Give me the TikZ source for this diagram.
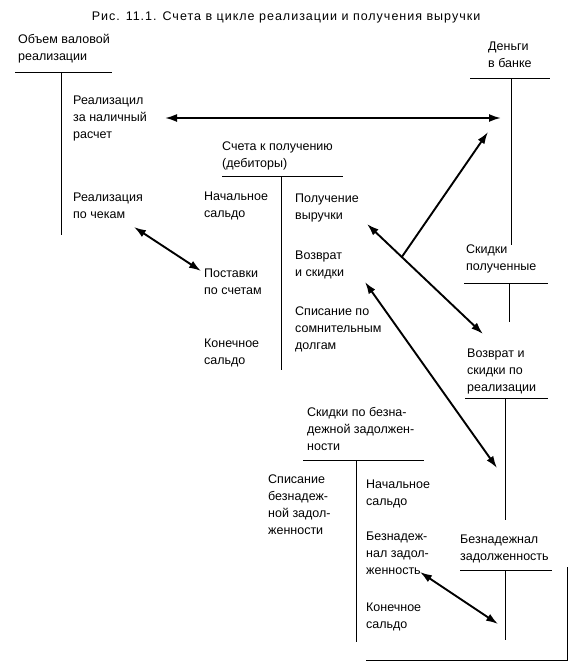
\documentclass[tikz,border=0pt]{standalone}
\usepackage{fontspec}
\setmainfont{Liberation Sans}
\usetikzlibrary{arrows.meta,positioning,calc}

\begin{document}
\begin{tikzpicture}[x=1pt, y=-1pt, >={Latex[length=12pt,width=8pt]},
  every node/.style={inner sep=0pt, font=\fontsize{12.5}{17}\selectfont},
  lbl/.style={anchor=north west, align=left},
  tline/.style={line width=1pt},
  flow/.style={<->, line width=1.9pt}]
  \useasboundingbox (0,0) rectangle (571,664);
  % title
  \node[anchor=north, font=\fontsize{12.5}{17}\selectfont\addfontfeatures{LetterSpace=8}] (title) at (286,12)
       {Рис. 11.1. Счета в цикле реализации и получения выручки};
  % gross sales
  \node[lbl] (gross) at (18,34) {Объем валовой\\реализации};
  \draw[tline] (15,72) -- (112,72);
  \draw[tline] (61,72) -- (61,235);
  \node[lbl] (cashsale) at (73,96) {Реализацил\\за наличный\\расчет};
  \node[lbl] (chksale)  at (73,193) {Реализация\\по чекам};
  % cash in bank
  \node[lbl] (bank) at (488,42) {Деньги\\в банке};
  \draw[tline] (470,78) -- (550,78);
  \draw[tline] (511,78) -- (511,245);
  % receivables
  \node[lbl] (recv) at (222,142) {Счета к получению\\(дебиторы)};
  \draw[tline] (222,176) -- (343,176);
  \draw[tline] (281,176) -- (281,370);
  \node[lbl] (rOpen)  at (204,192) {Начальное\\сальдо};
  \node[lbl] (rSale)  at (204,269) {Поставки\\по счетам};
  \node[lbl] (rClose) at (204,339) {Конечное\\сальдо};
  \node[lbl] (rGet)   at (295,194) {Получение\\выручки};
  \node[lbl] (rRet)   at (295,251) {Возврат\\и скидки};
  \node[lbl] (rOff)   at (295,307) {Списание по\\сомнительным\\долгам};
  % discounts taken
  \node[lbl] (disc) at (466,245) {Скидки\\полученные};
  \draw[tline] (464,283) -- (548,283);
  \draw[tline] (509,283) -- (509,322);
  % sales returns
  \node[lbl] (sret) at (467,349) {Возврат и\\скидки по\\реализации};
  \draw[tline] (465,398) -- (548,398);
  \draw[tline] (505,398) -- (505,520);
  % allowance for bad debts
  \node[lbl] (allow) at (307,407) {Скидки по безна-\\дежной задолжен-\\ности};
  \draw[tline] (303,460) -- (424,460);
  \draw[tline] (356,460) -- (356,642);
  \node[lbl] (aOff)   at (268,475) {Списание\\безнадеж-\\ной задол-\\женности};
  \node[lbl] (aOpen)  at (366,480) {Начальное\\сальдо};
  \node[lbl] (aBad)   at (366,532) {Безнадеж-\\нал задол-\\женность};
  \node[lbl] (aClose) at (366,603) {Конечное\\сальдо};
  % bad debts
  \node[lbl] (bad) at (460,535) {Безнадежнал\\задолженность};
  \draw[tline] (460,570) -- (552,570);
  \draw[tline] (505,570) -- (505,640);
  \draw[tline] (567,567) -- (567,660) -- (366,660);
  % flows
  \coordinate (cashL) at (165,118);
  \coordinate (cashR) at (501,118);
  \coordinate (chkA)  at (134,227);
  \coordinate (chkB)  at (201,271);
  \coordinate (getA)  at (367,224);
  \coordinate (getB)  at (483,334);
  \coordinate (fork)  at ($(getA)!0.3!(getB)$);
  \coordinate (bankIn) at (488,132);
  \coordinate (retA)  at (365,282);
  \coordinate (retB)  at (497,468);
  \coordinate (badA)  at (420,572);
  \coordinate (badB)  at (498,624);
  \draw[flow] (cashL) -- (cashR);
  \draw[flow] (chkA) -- (chkB);
  \draw[flow] (getA) -- (getB);
  \draw[->, line width=1.9pt] (fork) -- (bankIn);
  \draw[flow] (retA) -- (retB);
  \draw[flow] (badA) -- (badB);
\end{tikzpicture}
\end{document}
